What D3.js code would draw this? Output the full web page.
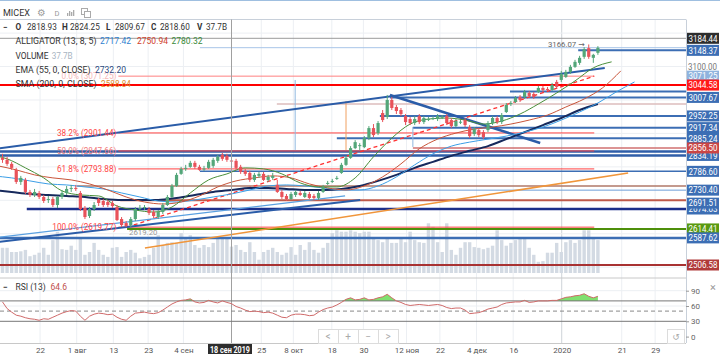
<!DOCTYPE html>
<html><head><meta charset="utf-8">
<script src="https://cdn.jsdelivr.net/npm/d3@7"></script>
<style>body{margin:0;background:#fff}svg{display:block;font-family:Roboto,"DejaVu Sans",sans-serif}</style>
</head><body><svg id="c" width="720" height="354"></svg>
<script>
// ---------------- DATA ----------------
const openP = [2827,2821,2809,2791,2755,2761,2725,2716,2722,2710,
2701,2704,2686,2710,2722,2734,2737,2722,2677,2653,
2674,2704,2698,2695,2692,2680,2644,2632,2626,2644,
2674,2677,2674,2665,2650,2665,2686,2710,2743,2779,
2794,2800,2812,2800,2794,2797,2803,2818,2836,2833,
2818.93,2818,2800,2788,2782,2761,2773,2779,2761,2767,
2746,2725,2713,2704,2716,2722,2710,2719,2713,2707,
2725,2749,2755,2764,2782,2806,2827,2856,2862,2859,
2886,2916,2901,2961,2949,3000,2979,2970,2952,2943,
2931,2952,2934,2940,2943,2943,2949,2952,2940,2922,
2934,2940,2919,2898,2910,2904,2910,2931,2946,2934,
2964,2988,2994,3009,3009,3021,3018,3024,3036,3033,
3030,3054,3060,3069,3084,3099,3111,3129,3155,3126,
3141];
const highP = [2839,2830,2815,2797,2773,2767,2731,2734,2728,2716,
2713,2710,2713,2731,2743,2746,2746,2728,2683,2680,
2695,2707,2704,2701,2698,2686,2650,2638,2650,2680,
2686,2686,2680,2671,2671,2692,2716,2749,2782,2800,
2806,2818,2818,2806,2803,2821,2827,2836,2842,2839,
2824.25,2824,2806,2794,2788,2782,2785,2785,2776,2782,
2761,2731,2719,2725,2731,2728,2728,2725,2719,2728,
2746,2758,2764,2773,2812,2833,2862,2880,2871,2892,
2922,2928,2937,2970,3015,3009,2985,2976,2958,2949,
2952,2958,2952,2949,2952,2958,2955,2958,2946,2943,
2940,2946,2925,2919,2916,2910,2937,2952,2952,2961,
2991,2997,3012,3015,3030,3027,3024,3042,3042,3039,
3051,3060,3087,3090,3105,3120,3132,3158,3166.07,3138,
3161];
const lowP = [2812,2803,2791,2749,2746,2719,2710,2710,2704,2692,
2692,2680,2677,2704,2716,2725,2728,2668,2644,2647,
2668,2683,2680,2680,2677,2638,2620,2619.2,2620,2638,
2668,2671,2656,2647,2644,2659,2683,2707,2740,2776,
2788,2797,2794,2788,2788,2794,2797,2812,2818,2815,
2809.67,2791,2779,2773,2755,2755,2767,2758,2755,2761,
2722,2704,2698,2701,2710,2713,2707,2704,2701,2701,
2722,2746,2752,2761,2779,2803,2824,2853,2850,2856,
2880,2889,2895,2934,2943,2970,2958,2952,2925,2925,
2925,2928,2928,2937,2940,2937,2943,2925,2916,2919,
2928,2919,2886,2892,2889,2883,2904,2925,2928,2928,
2961,2982,2991,2994,3003,3006,3003,3021,3024,3027,
3027,3033,3054,3066,3078,3096,3105,3123,3123,3111,
3135];
const closeP = [2821,2809,2797,2755,2767,2725,2716,2725,2710,2698,
2704,2686,2710,2722,2734,2737,2735,2674,2650,2674,
2686,2692,2686,2686,2683,2641,2626,2623,2644,2674,
2677,2680,2662,2653,2665,2686,2710,2743,2776,2794,
2797,2812,2800,2791,2795,2815,2821,2830,2824,2821,
2818.60,2797,2785,2779,2761,2776,2779,2761,2770,2773,
2725,2710,2704,2719,2725,2716,2722,2707,2707,2722,
2740,2752,2758,2767,2806,2827,2856,2874,2865,2886,
2916,2895,2931,2940,3000,2976,2967,2958,2934,2931,
2943,2934,2946,2943,2946,2952,2950,2931,2922,2937,
2935,2925,2892,2913,2895,2889,2931,2946,2934,2955,
2985,2991,3006,3000,3024,3012,3009,3036,3030,3031,
3045,3039,3078,3084,3099,3114,3126,3152,3129,3135,
3156];
const volumeB = [36,36,30,30,31,33,24,26,29,36,
26,47,59,34,33,39,33,51,26,30,
43,33,26,23,36,37,23,30,33,29,
21,23,26,36,54,40,43,44,43,57,
51,54,40,36,40,37,43,50,51,51,
37.7,40,33,30,44,30,19,30,33,36,
30,26,29,37,26,40,33,44,33,29,
36,43,57,61,59,59,61,59,57,59,
59,50,47,44,50,43,43,50,44,59,
47,44,43,71,66,44,30,71,33,26,
36,44,44,37,36,34,36,39,61,47,
39,43,47,51,51,36,26,16,17,29,
29,43,30,44,47,43,47,61,61,51,
47];
const rsi13 = [68,55,48,42,40,37,35,34,32,35,
34,38,42,46,49,51,50,40,32,40,
44,46,45,43,44,38,34,32,40,46,
47,48,46,45,47,52,58,64,68,71,
72,74,68,66,67,71,68,66,70,67,
64.6,59,56,52,49,50,49,47,48,46,
42,38,37,42,44,44,43,41,42,48,
53,56,58,62,67,73,76,72,73,76,
72,73,76,78,83,76,70,67,63,61,
62,63,62,61,62,63,61,57,55,56,
56,52,45,46,47,50,54,56,58,63,
66,67,68,68,71,67,68,70,70,70,
71,71,74,77,78,80,81,84,79,76,
79];
// indicator lines, sampled every 4 bars from the given start bar
const sampleStep = 4;
const lipsStart = -3;
const lips = [2836,2824,2797,2767,2728,2716,2713,2683,2671,2665,2680,2722,2761,2779,2797,2794,2779,2752,2740,2740,2767,2830,2886,2928,2943,2946,2940,2928,2937,2958,2988,3021,3057,3096,3114];
const teethStart = -1;
const teeth = [2803,2791,2776,2767,2761,2749,2731,2710,2695,2689,2695,2713,2740,2758,2767,2773,2767,2749,2737,2731,2743,2770,2809,2854,2883,2901,2913,2919,2928,2940,2955,2979,3003,3036,3087];
const jawStart = -2;
const jaw = [2773,2767,2758,2749,2746,2740,2734,2722,2710,2698,2695,2701,2710,2719,2731,2743,2746,2743,2737,2731,2731,2743,2770,2806,2839,2862,2874,2883,2892,2904,2919,2940,2964,2991,3024,3054];
const emaStart = -2;
const ema55 = [2731,2725,2719,2716,2713,2710,2704,2701,2701,2701,2707,2716,2725,2731,2737,2737,2734,2731,2731,2734,2743,2758,2776,2797,2815,2833,2848,2862,2883,2904,2925,2946,2970,2988];
// x-axis
const tickIdx = [8.2,16.2,24.2,31.8,39.5,56.5,63.5,71.9,78.8,88.2,95.5,103.5,111.5,122.1,135.2,142.5];
const tickLabels = ["22","1 авг","13","23","4 сен","25","8 окт","18","30","12 ноя","22","4 дек","16","2020","21","29"];
const cursorIdx = 50, cursorLabel = "18 сен 2019", cursorPrice = 3184.44;
// horizontal drawn levels (price, first bar)
const levelPrices = [3156.4,3148.37,3044.58,3025.4,3007.67,2988,2952.25,2917.34,2885.24,2856.50,2846,2834.19,2786.60,2743,2730.40,2700,2674.03,2614.41,2587.62,2506.58];
const levelFrom   = [43.1,125.7,-2,110.8,84.6,59.9,82.4,89.6,73.0,89.6,-2,-2,43.1,16.3,49.7,25.7,5.3,27.2,-2,-2];
// fibonacci retracement
const fibPrices = [3071.25,2901.44,2847.66,2793.88,2619.77];
const fibNames  = ["0.0% (3071.25)","38.2% (2901.44)","50.0% (2847.66)","61.8% (2793.88)","100.0% (2619.77)"];
const fibFrom = 25.3, fibTo = 129.2, fibLowIdx = 27.2;
// trend lines [bar, price] pairs
const trendA = [[-0.6,2855.6],[131.5,3095.7]];
const trendB = [[84.6,3015],[117.4,2871.4]];
const trendC = [[-0.6,2576.3],[78.1,2701]];
const trendD = [[-0.6,2590],[74.8,2713]];
const trendOrange = [[31.1,2557.5],[136.6,2781.7]];
// vertical helper lines [bar, top price, bottom price]
const vLines = [[63.9,3059.8,2850.5],[75.0,2997,2850.5],[89.6,2919,2859.5]];
// right axis labels
const axisLabelPrices = [3184.44,3148.37,3071.25,3044.58,3007.67,2952.25,2917.34,2885.24,2834.19,2856.50,2786.60,2730.40,2674.03,2691.51,2614.41,2587.62,2506.58];
const gridPrices = [2500,2600,2700,2800,2900,3000,3100,3200];
const rsiTicks = [90,60,30,0];

// ---------------- STYLES ----------------
const levelColors = ["#a9c6e8","#3c6eb4","#ff0000","#3c6eb4","#3c6eb4","#dcbcbc","#3c6eb4","#3c6eb4","#3c6eb4","#d07070","#2f5ea8","#2f5ea8","#3c6eb4","#b07868","#6f9fd8","#c05a4a","#1c2f8a","#4d8f0a","#3c6eb4","#a83232"];
const levelWidths = [1,2,2,2,2,1.5,2,2,2,1.5,2.5,2.5,1.5,1.5,1,2,2.5,2,2.5,2];
const axisLabelColors = ["#2d2d2d","#3c6eb4","#8fb3de","#ff1a1a","#3c6eb4","#3c6eb4","#3c6eb4","#3c6eb4","#3c6eb4","#c94545","#3c6eb4","#3c6eb4","#3c6eb4","#3c6eb4","#5a9a10","#3c6eb4","#b03a3a"];
const UP = "#53a679", DOWN = "#e8525a";

// ---------------- SCALES ----------------
const svg = d3.select("#c");
const plotR = 686, mainTop = 19.5, mainBot = 277, rsiTop = 279, rsiBot = 343;
const x = d3.scaleLinear().domain([0,130]).range([2.5, 2.5+130*4.58]);
const y = d3.scaleLinear().domain([2506.58,3184.44]).range([265,38.3]);
const yv = d3.scaleLinear().domain([0,100]).range([273,203]);
const yr = d3.scaleLinear().domain([0,100]).range([336.6,285.6]);

const defs = svg.append("defs");
defs.append("clipPath").attr("id","cm").append("rect").attr("x",0).attr("y",mainTop).attr("width",plotR).attr("height",mainBot-mainTop);
defs.append("clipPath").attr("id","cr").append("rect").attr("x",0).attr("y",rsiTop).attr("width",plotR).attr("height",rsiBot-rsiTop);

svg.append("line").attr("x1",0).attr("x2",720).attr("y1",0.5).attr("y2",0.5).attr("stroke","#9fbfe0");

// grid
const grid = svg.append("g");
grid.selectAll(".gv").data(tickIdx).join("line")
  .attr("x1",d=>x(d)).attr("x2",d=>x(d)).attr("y1",mainTop).attr("y2",rsiBot)
  .attr("stroke",(d,i)=>tickLabels[i]==="2020"?"#cfd3d8":"#eceff3");
grid.selectAll(".gh").data(gridPrices).join("line")
  .attr("x1",0).attr("x2",plotR).attr("y1",d=>y(d)).attr("y2",d=>y(d)).attr("stroke","#eceff3")
  .attr("clip-path","url(#cm)");
grid.selectAll(".gr").data([90,60]).join("line")
  .attr("x1",0).attr("x2",plotR).attr("y1",d=>yr(d)).attr("y2",d=>yr(d)).attr("stroke","#eceff3");

// frame
svg.append("line").attr("x1",0).attr("x2",plotR).attr("y1",mainTop).attr("y2",mainTop).attr("stroke","#c8d0da");
svg.append("line").attr("x1",plotR+0.5).attr("x2",plotR+0.5).attr("y1",mainTop).attr("y2",rsiBot).attr("stroke","#c8d0da");
svg.append("line").attr("x1",0).attr("x2",plotR).attr("y1",mainBot+1).attr("y2",mainBot+1).attr("stroke","#c8c8c8");
svg.append("line").attr("x1",0).attr("x2",plotR).attr("y1",rsiBot+0.5).attr("y2",rsiBot+0.5).attr("stroke","#c8c8c8");

const main = svg.append("g").attr("clip-path","url(#cm)");
const idx = d3.range(openP.length);

// volume
main.append("g").selectAll("rect").data(idx).join("rect")
  .attr("x",i=>x(i)-1.7).attr("width",3.4)
  .attr("y",i=>yv(volumeB[i])).attr("height",i=>yv(0)-yv(volumeB[i]))
  .attr("fill","#d3dae3");

// crosshair
main.append("line").attr("x1",0).attr("x2",plotR).attr("y1",y(cursorPrice)).attr("y2",y(cursorPrice)).attr("stroke","#9a9a9a");

// levels
main.append("g").selectAll("line").data(levelPrices).join("line")
  .attr("x1",(d,i)=>x(levelFrom[i])).attr("x2",x(160))
  .attr("y1",d=>y(d)).attr("y2",d=>y(d))
  .attr("stroke",(d,i)=>levelColors[i]).attr("stroke-width",(d,i)=>levelWidths[i]);

// fib
main.append("g").selectAll("line").data(fibPrices).join("line")
  .attr("x1",x(fibFrom)).attr("x2",x(fibTo)).attr("y1",d=>y(d)).attr("y2",d=>y(d))
  .attr("stroke",(d,i)=>i===0?"#ff8080":"#ff4040").attr("stroke-width",1);
main.append("line").attr("x1",x(fibLowIdx)).attr("y1",y(fibPrices[4])).attr("x2",x(fibTo)).attr("y2",y(fibPrices[0]))
  .attr("stroke","#ff3030").attr("stroke-width",1.3).attr("stroke-dasharray","4,3");

// vertical helper lines
main.append("g").selectAll("line").data(vLines).join("line")
  .attr("x1",d=>x(d[0])).attr("x2",d=>x(d[0])).attr("y1",d=>y(d[1])).attr("y2",d=>y(d[2]))
  .attr("stroke",(d,i)=>i===1?"#f0a060":"#8fb8e0").attr("stroke-width",1);

// trend lines
const tl = d3.line().x(d=>x(d[0])).y(d=>y(d[1]));
main.append("path").attr("d",tl(trendA)).attr("stroke","#2a5ca8").attr("stroke-width",2).attr("fill","none");
main.append("path").attr("d",tl(trendB)).attr("stroke","#2a5ca8").attr("stroke-width",2.5).attr("fill","none");
main.append("path").attr("d",tl(trendC)).attr("stroke","#2a5ca8").attr("stroke-width",2).attr("fill","none");
main.append("path").attr("d",tl(trendD)).attr("stroke","#5aa0e0").attr("stroke-width",1.2).attr("fill","none");
main.append("path").attr("d",tl(trendOrange)).attr("stroke","#f0953a").attr("stroke-width",1.5).attr("fill","none");

// fib labels (on top of the level lines)
main.append("g").selectAll("text").data(fibNames).join("text")
  .attr("x",x(fibFrom)-2).attr("y",(d,i)=>y(fibPrices[i])+3).attr("text-anchor","end")
  .attr("font-size",8.2).attr("fill",(d,i)=>i===0?"#f6b8b8":(i===2?"#f27a7a":"#ff4545")).text(d=>d);
main.append("text").attr("x",x(fibLowIdx)+2).attr("y",y(lowP[27])+7.5).attr("font-size",7.8).attr("fill","#999").text("2619.20");

// indicators
const sl = d3.line().x(d=>x(d[0])).y(d=>y(d[1])).curve(d3.curveMonotoneX);
const ser = (vals,start)=>vals.map((v,k)=>[start+sampleStep*k,v]);
main.append("path").attr("d",sl(ser(ema55,emaStart))).attr("stroke","#16295c").attr("stroke-width",2).attr("fill","none");
main.append("path").attr("d",sl(ser(jaw,jawStart))).attr("stroke","#3b9ee6").attr("stroke-width",1).attr("fill","none");
main.append("path").attr("d",sl(ser(teeth,teethStart))).attr("stroke","#c8553a").attr("stroke-width",1).attr("fill","none");
main.append("path").attr("d",sl(ser(lips,lipsStart))).attr("stroke","#4a8f3a").attr("stroke-width",1).attr("fill","none");

// candles
const cg = main.append("g");
cg.selectAll("line").data(idx).join("line")
  .attr("x1",i=>x(i)).attr("x2",i=>x(i)).attr("y1",i=>y(highP[i])).attr("y2",i=>y(lowP[i]))
  .attr("stroke",i=>closeP[i]>=openP[i]?UP:DOWN).attr("stroke-width",1);
cg.selectAll("rect").data(idx).join("rect")
  .attr("x",i=>x(i)-1.6).attr("width",3.2)
  .attr("y",i=>y(Math.max(openP[i],closeP[i])))
  .attr("height",i=>Math.max(1,Math.abs(y(openP[i])-y(closeP[i]))))
  .attr("fill",i=>closeP[i]>=openP[i]?UP:DOWN);

main.append("text").attr("x",x(128)-4).attr("y",y(highP[128])+2.5).attr("text-anchor","end")
  .attr("font-size",7.8).attr("fill","#666").text("3166.07 →");

svg.append("line").attr("x1",x(cursorIdx)).attr("x2",x(cursorIdx)).attr("y1",mainTop).attr("y2",rsiBot)
  .attr("stroke","#a0a0a0");

// RSI panel
const rp = svg.append("g").attr("clip-path","url(#cr)");
rp.append("path").datum(idx).attr("d",d3.area().x(i=>x(i)).y0(yr(70)).y1(i=>yr(Math.max(70,rsi13[i]))))
  .attr("fill","#80e070");
rp.append("line").attr("x1",0).attr("x2",plotR).attr("y1",yr(70)).attr("y2",yr(70)).attr("stroke","#777");
rp.append("line").attr("x1",0).attr("x2",plotR).attr("y1",yr(30)).attr("y2",yr(30)).attr("stroke","#777");
rp.append("line").attr("x1",0).attr("x2",plotR).attr("y1",yr(50)).attr("y2",yr(50)).attr("stroke","#888").attr("stroke-dasharray","4,3");
rp.append("path").datum(idx).attr("d",d3.line().x(i=>x(i)).y(i=>yr(rsi13[i]))).attr("stroke","#d06a6a").attr("stroke-width",1).attr("fill","none");

const ra = svg.append("g").attr("transform",`translate(${plotR},0)`).call(d3.axisRight(yr).tickValues(rsiTicks).tickSize(3).tickPadding(2));
ra.select(".domain").remove();
ra.selectAll("line").attr("stroke","#999");
ra.selectAll("text").attr("font-size",8).attr("fill","#666").attr("font-family","Roboto");

const pa = svg.append("g").attr("transform",`translate(${plotR},0)`).call(d3.axisRight(y).tickValues([3100]).tickSize(0).tickPadding(2).tickFormat(d3.format(".2f")));
pa.select(".domain").remove();
pa.selectAll("text").attr("font-size",8.5).attr("fill","#777").attr("font-family","Roboto").attr("textLength",29).attr("lengthAdjust","spacingAndGlyphs");

// right axis boxes
const lab = svg.append("g").selectAll("g").data(axisLabelPrices).join("g")
  .attr("transform",d=>`translate(${plotR+1},${y(d)})`);
lab.append("rect").attr("x",0).attr("y",-5.5).attr("width",32).attr("height",11).attr("fill",(d,i)=>axisLabelColors[i]);
lab.append("text").attr("x",1.5).attr("y",3.2).attr("font-size",8.8).attr("fill","#fff")
  .attr("textLength",29).attr("lengthAdjust","spacingAndGlyphs").text(d=>d.toFixed(2));

// x axis
const xa = svg.append("g").attr("transform",`translate(0,${rsiBot})`)
  .call(d3.axisBottom(x).tickValues(tickIdx).tickFormat((d,i)=>tickLabels[i]).tickSize(0).tickPadding(4));
xa.select(".domain").remove();
xa.selectAll("text").attr("font-size",8).attr("fill","#555").attr("font-family","Roboto");
const cb = svg.append("g").attr("transform",`translate(${x(cursorIdx)-1.5},${rsiBot})`);
cb.append("rect").attr("x",-22).attr("y",1).attr("width",44).attr("height",11).attr("fill","#2d2d2d");
cb.append("text").attr("x",0).attr("y",9.6).attr("text-anchor","middle").attr("font-size",8.5).attr("font-weight","bold").attr("fill","#fff")
  .attr("textLength",40).attr("lengthAdjust","spacingAndGlyphs").text(cursorLabel);

// nav buttons
const nb = svg.append("g");
["<","+","−",">"].forEach((s,k)=>{
  nb.append("rect").attr("x",318+20*k+0.5).attr("y",329.5).attr("width",20).attr("height",14).attr("fill","#fff").attr("stroke","#dcdcdc");
  nb.append("text").attr("x",328+20*k).attr("y",340).attr("text-anchor","middle").attr("font-size",10).attr("fill","#aaa").text(s);
});
nb.append("rect").attr("x",667.5).attr("y",329.5).attr("width",17).attr("height",14).attr("fill","#fff").attr("stroke","#dcdcdc");
nb.append("text").attr("x",676).attr("y",340).attr("text-anchor","middle").attr("font-size",9).attr("fill","#aaa").attr("font-family","DejaVu Sans").text("↺");

// RSI header
const rh = svg.append("text").attr("x",3).attr("y",289.5).attr("font-size",8.5).attr("fill","#333");
rh.append("tspan").attr("font-weight","bold").text("−");
rh.append("tspan").attr("x",15.5).text("RSI (13)");
rh.append("tspan").attr("x",50.5).attr("fill","#c0504d").text("64.6");
svg.append("text").attr("x",713).attr("y",291).attr("text-anchor","middle").attr("font-size",11).attr("fill","#999").text("×");

// header / legend
svg.append("text").attr("x",3).attr("y",15.8).attr("font-size",9).attr("fill","#333").text("MICEX");
svg.append("text").attr("x",41.5).attr("y",16.2).attr("text-anchor","middle").attr("font-size",9.5).attr("fill","#999").attr("font-family","DejaVu Sans").text("⚙");
svg.append("text").attr("x",57).attr("y",16.2).attr("text-anchor","middle").attr("font-size",7.5).attr("fill","#999").text("D");
[[67,3],[69,5],[71,4],[73,6]].forEach(b=>svg.append("rect").attr("x",b[0]).attr("y",16-b[1]).attr("width",1.3).attr("height",b[1]).attr("fill","#aaa"));
svg.append("rect").attr("x",81.5).attr("y",8.5).attr("width",6).attr("height",6).attr("fill","none").attr("stroke","#aaa");
svg.append("rect").attr("x",84.5).attr("y",11.5).attr("width",6).attr("height",6).attr("fill","#fff").attr("stroke","#aaa");

const ohlc = svg.append("text").attr("y",29.5).attr("font-size",8.2).attr("fill","#333");
ohlc.append("tspan").attr("x",3).attr("font-weight","bold").text("−");
[["O",15.5,"2818.93",27],["H",62,"2824.25",70],["L",106,"2809.67",115],["C",151,"2818.60",160],["V",197,"37.7B",206]].forEach(r=>{
  ohlc.append("tspan").attr("x",r[1]).attr("font-weight","bold").text(r[0]);
  ohlc.append("tspan").attr("x",r[3]).text(r[2]);
});
const leg = [
  {y:44, parts:[["ALLIGATOR (13, 8, 5)",15.5,"#333",81],["2717.42",100,"#2f7fd0",31],["2750.94",137,"#d0402a",31],["2780.32",171.5,"#3a8a3a",31]]},
  {y:58.5, parts:[["VOLUME",15.5,"#333",33],["37.7B",51.7,"#a8b4c2",21]]},
  {y:73, parts:[["EMA (55, 0, CLOSE)",15.5,"#333",75],["2732.20",95,"#2a4a80",31]]},
  {y:87, parts:[["SMA (200, 0, CLOSE)",15.5,"#333",81],["2588.84",101,"#e08a2a",30]]}
];
leg.forEach(r=>{
  r.parts.forEach(p=>svg.append("text").attr("y",r.y).attr("x",p[1]).attr("font-size",8.6).attr("fill",p[2])
    .attr("textLength",p[3]).attr("lengthAdjust","spacingAndGlyphs").text(p[0]));
});
</script></body></html>
